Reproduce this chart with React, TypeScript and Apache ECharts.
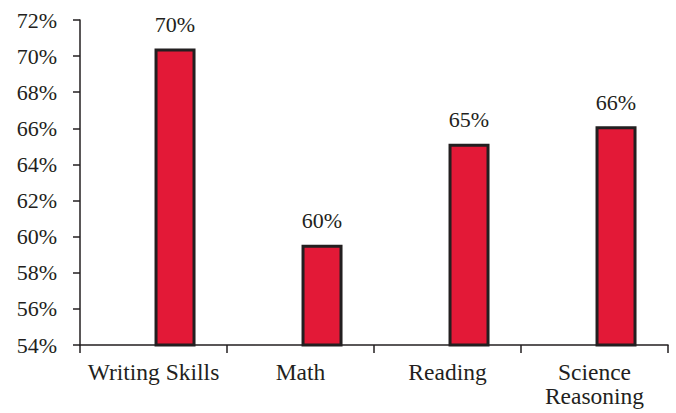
import React, { useEffect, useRef } from "react";
import * as echarts from "echarts";

const categories = ["Writing Skills", "Math", "Reading", "Science\nReasoning"];
const scores = [70.42, 59.55, 65.15, 66.11];
const emptySeries = [null, null, null, null];
const yMin = 54;
const yMax = 72;
const yStep = 2;

export default function App() {
  const ref = useRef<HTMLDivElement>(null);
  useEffect(() => {
    if (!ref.current) return;
    const chart = echarts.init(ref.current, undefined, { renderer: "svg" });
    const font = "'Liberation Serif', 'Times New Roman', serif";
    const ink = "#231F20";
    chart.setOption({
      animation: false,
      backgroundColor: "#ffffff",
      textStyle: { fontFamily: font },
      grid: { left: 80, right: 8, top: 20, bottom: 68 },
      xAxis: {
        type: "category",
        data: categories,
        axisLine: { lineStyle: { color: ink, width: 1.5 } },
        axisTick: { show: true, length: 8, lineStyle: { color: ink, width: 1.5 } },
        axisLabel: {
          color: ink,
          fontFamily: font,
          fontSize: 23.5,
          lineHeight: 24,
          margin: 15,
          interval: 0,
        },
      },
      yAxis: {
        type: "value",
        min: yMin,
        max: yMax,
        interval: yStep,
        splitLine: { show: false },
        axisLine: { show: true, lineStyle: { color: ink, width: 1.5 } },
        axisTick: { show: true, length: 7, lineStyle: { color: ink, width: 1.5 } },
        axisLabel: {
          color: ink,
          fontFamily: font,
          fontSize: 22,
          margin: 23,
          formatter: "{value}%",
        },
      },
      series: [
        {
          type: "bar",
          data: emptySeries,
          barWidth: 41,
          barGap: "5%",
        },
        {
          type: "bar",
          data: scores,
          barWidth: 41,
          barGap: "5%",
          itemStyle: { color: "#E31937", borderColor: ink, borderWidth: 3 },
          label: {
            show: true,
            position: "top",
            distance: 13,
            color: ink,
            fontFamily: font,
            fontSize: 22,
            formatter: (p: any) => Math.round(p.value) + "%",
          },
        },
      ],
    });
    return () => chart.dispose();
  }, []);
  return (
    <div
      ref={ref}
      style={{ position: "absolute", left: 0, top: 0, width: 676, height: 413 }}
    />
  );
}
